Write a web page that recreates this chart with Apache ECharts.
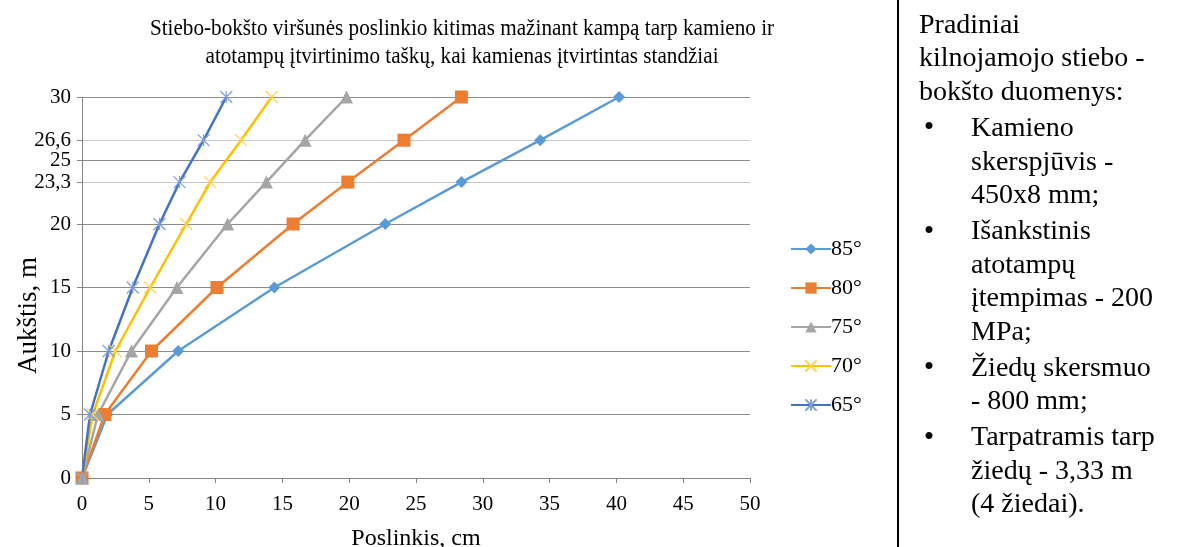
<!DOCTYPE html>
<html>
<head>
<meta charset="utf-8">
<script src="https://cdn.jsdelivr.net/npm/echarts@6/dist/echarts.min.js"></script>
<style>
  html, body { margin: 0; padding: 0; background: #fff; }
  #chart { width: 1181px; height: 547px; }
</style>
</head>
<body>
<div id="chart"></div>
<script>
// aukštis (m) - taškai, kuriuose pažymėti poslinkiai
var heights = [0, 5, 10, 15, 20, 23.3, 26.6, 30];
var yLabels = [0, 5, 10, 15, 20, 23.3, 25, 26.6, 30];
var xTicks = [0, 5, 10, 15, 20, 25, 30, 35, 40, 45, 50];

// poslinkis (cm) pagal kampą
var names = ['85°', '80°', '75°', '70°', '65°'];
var d85 = [0, 1.9, 7.2, 14.4, 22.7, 28.4, 34.3, 40.2];
var d80 = [0, 1.7, 5.2, 10.1, 15.8, 19.9, 24.1, 28.4];
var d75 = [0, 1.2, 3.7, 7.1, 10.9, 13.8, 16.7, 19.8];
var d70 = [0, 0.8, 2.5, 5.1, 7.8, 9.6, 11.9, 14.2];
var d65 = [0, 0.6, 2.0, 3.8, 5.8, 7.3, 9.1, 10.8];

var titleText = 'Stiebo-bokšto viršunės poslinkio kitimas mažinant kampą tarp kamieno ir\natotampų įtvirtinimo taškų, kai kamienas įtvirtintas standžiai';

var introLines = ['Pradiniai', 'kilnojamojo stiebo -', 'bokšto duomenys:'];
var bullets = [
  ['Kamieno', 'skerspjūvis -', '450x8 mm;'],
  ['Išankstinis', 'atotampų', 'įtempimas - 200', 'MPa;'],
  ['Žiedų skersmuo', '- 800 mm;'],
  ['Tarpatramis tarp', 'žiedų - 3,33 m', '(4 žiedai).']
];

var serif = '"Liberation Serif", "Times New Roman", serif';

function pairs(xs) {
  return xs.map(function (x, i) { return [x, heights[i]]; });
}

var X_PATH = 'path://M0,0L10,10M10,0L0,10';
var STAR_PATH = 'path://M0,0L10,10M10,0L0,10M5,0L5,10';

// teksto blokas dešinėje
var panel = [];
var lineY = 25.5, step = 33.6;
introLines.forEach(function (t) {
  panel.push({ type: 'text', x: 919, y: lineY, style: { text: t, font: '28px ' + serif, fill: '#000', textVerticalAlign: 'middle' } });
  lineY += step;
});
bullets.forEach(function (b) {
  lineY += 2.3;
  panel.push({ type: 'text', x: 929, y: lineY, style: { text: '•', font: '30px ' + serif, fill: '#000', textAlign: 'center', textVerticalAlign: 'middle' } });
  b.forEach(function (t) {
    panel.push({ type: 'text', x: 971, y: lineY, style: { text: t, font: '28px ' + serif, fill: '#000', textVerticalAlign: 'middle' } });
    lineY += step;
  });
});

var myChart = echarts.init(document.getElementById('chart'));

var option = {
  animation: false,
  backgroundColor: '#fff',
  grid: { left: 82, right: 431, top: 97, bottom: 69, containLabel: false, outerBoundsMode: 'none' },
  legend: {
    orient: 'vertical',
    left: 790,
    top: 238,
    padding: 0,
    itemWidth: 40,
    itemHeight: 14,
    itemGap: 17,
    textStyle: { fontFamily: serif, fontSize: 22, color: '#000', padding: [0, 0, 0, -5] },
    data: names
  },
  xAxis: {
    type: 'value',
    min: 0,
    max: 50,
    interval: 5,
    name: 'Poslinkis, cm',
    nameLocation: 'middle',
    nameGap: 49,
    nameMoveOverlap: false,
    nameTextStyle: { fontFamily: serif, fontSize: 24, color: '#000' },
    axisLine: { show: true, lineStyle: { color: '#868686', width: 1 } },
    axisTick: { show: true, length: 5, lineStyle: { color: '#868686' } },
    axisLabel: { fontFamily: serif, fontSize: 21, color: '#000', margin: 16 },
    splitLine: { show: false }
  },
  yAxis: [
    {
      type: 'value',
      min: 0,
      max: 30,
      interval: 1,
      name: 'Aukštis, m',
      nameLocation: 'middle',
      nameGap: 40,
      nameRotate: 90,
      nameMoveOverlap: false,
      nameTextStyle: { fontFamily: serif, fontSize: 27, color: '#000', padding: [0, 56, 0, 0] },
      axisLine: { show: true, lineStyle: { color: '#868686', width: 1 } },
      axisTick: { show: true, length: 5, customValues: yLabels, lineStyle: { color: '#868686' } },
      axisLabel: {
        fontFamily: serif, fontSize: 21, color: '#000', margin: 11,
        customValues: yLabels,
        formatter: function (v) { return String(v).replace('.', ','); }
      },
      splitLine: { show: true, lineStyle: { color: '#c6c6c6', width: 1 } }
    },
    {
      type: 'value',
      min: 0,
      max: 30,
      interval: 5,
      position: 'left',
      axisLine: { show: false },
      axisTick: { show: false },
      axisLabel: { show: false },
      splitLine: { show: true, lineStyle: { color: '#8c8c8c', width: 1 } }
    }
  ],
  series: [
    {
      name: names[0], type: 'line', data: pairs(d85),
      symbol: 'diamond', symbolSize: 12,
      lineStyle: { color: '#5B9BD5', width: 2.5 },
      itemStyle: { color: '#5B9BD5' }
    },
    {
      name: names[1], type: 'line', data: pairs(d80),
      symbol: 'rect', symbolSize: 13,
      lineStyle: { color: '#ED7D31', width: 2.5 },
      itemStyle: { color: '#ED7D31' }
    },
    {
      name: names[2], type: 'line', data: pairs(d75),
      symbol: 'triangle', symbolSize: 13,
      lineStyle: { color: '#A5A5A5', width: 2.5 },
      itemStyle: { color: '#A5A5A5' }
    },
    {
      name: names[3], type: 'line', data: pairs(d70),
      symbol: X_PATH, symbolSize: 12,
      lineStyle: { color: '#FFC000', width: 2.5 },
      itemStyle: { color: '#FFC000', borderColor: '#FFD24D', borderWidth: 1.2 }
    },
    {
      name: names[4], type: 'line', data: pairs(d65),
      symbol: STAR_PATH, symbolSize: 12,
      lineStyle: { color: '#4472C4', width: 2.5 },
      itemStyle: { color: '#4472C4', borderColor: '#7E9FDA', borderWidth: 1.2 }
    }
  ],
  graphic: [
    {
      type: 'text',
      x: 462,
      y: 15,
      scaleX: 0.92,
      style: {
        text: titleText,
        font: '23px ' + serif,
        fill: '#000',
        textAlign: 'center',
        textVerticalAlign: 'top',
        lineHeight: 28
      }
    },
    {
      type: 'line',
      shape: { x1: 898, y1: 0, x2: 898, y2: 547 },
      style: { stroke: '#000', lineWidth: 2 }
    }
  ].concat(panel)
};

myChart.setOption(option);
window.addEventListener('resize', function () {
  myChart.resize();
});
</script>
</body>
</html>
